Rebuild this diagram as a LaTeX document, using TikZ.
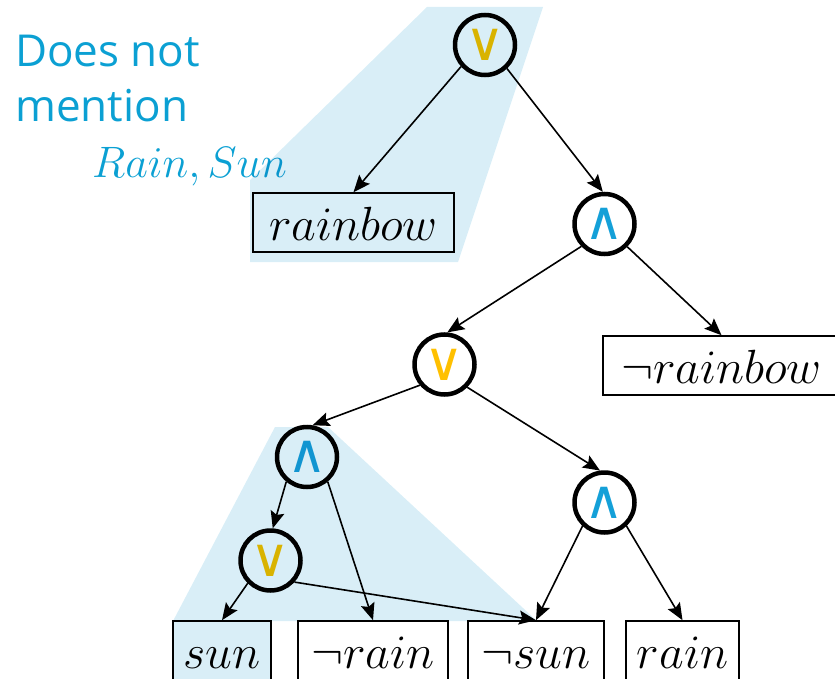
\RequirePackage{fix-cm}
\documentclass[tikz,border=0pt]{standalone}
\usepackage{fontspec}
\newfontfamily\labelfont{Open Sans}
\newfontfamily\opfont{DejaVu Sans}
\usetikzlibrary{arrows.meta}
\definecolor{shadeblue}{HTML}{D9EEF7}
\definecolor{labelblue}{HTML}{0BA0D3}
\definecolor{oryellow}{HTML}{FFC000}
\definecolor{andblue}{HTML}{14A0D8}
\begin{document}
\begin{tikzpicture}[x=1pt,y=-1pt,
  gate/.style={circle,draw=black,line width=4.5pt,fill=white,minimum size=60pt,inner sep=0pt},
  orgate/.style={gate,text=oryellow,font=\opfont\fontsize{54}{54}\selectfont},
  andgate/.style={gate,text=andblue,font=\opfont\fontsize{54}{54}\selectfont},
  lit/.style={draw=black,line width=1.6pt,fill=white,inner sep=0pt,minimum height=59pt,text height=36pt,text depth=0pt,font=\fontsize{48}{50}\selectfont},
  link/.style={-{Stealth[length=17pt,width=14pt,inset=3pt]},line width=1.6pt},
  region/.style={fill=shadeblue}]
\useasboundingbox (0,0) rectangle (835,679);

\node[orgate] (or1) at (485,45) {∨};
\node[andgate] (and1) at (604.5,224) {∧};
\node[orgate] (or2) at (444.5,364.5) {∨};
\node[andgate] (and2) at (307,457) {∧};
\node[orgate] (or3) at (270.5,560.5) {∨};
\node[andgate] (and3) at (604.5,502.5) {∧};

\node[lit,minimum width=201pt] (rainbow) at (353.5,222.5) {$rainbow$};
\node[lit,minimum width=237pt] (nrainbow) at (721.5,365.5) {$\neg rainbow$};
\node[lit,minimum width=98pt] (sun) at (222,650.5) {$sun$};
\node[lit,minimum width=150pt] (nrain) at (373,650.5) {$\neg rain$};
\node[lit,minimum width=136pt] (nsun) at (536,650.5) {$\neg sun$};
\node[lit,minimum width=113pt] (rain) at (682.5,650.5) {$rain$};

\draw[link] (or1.222) -- (rainbow.north);
\draw[link] (or1.-47) -- (and1.93);
\draw[link] (and1.224) -- (or2.85);
\draw[link] (and1.-45) -- (nrainbow.north);
\draw[link] (or2.220) -- (and2.80);
\draw[link] (or2.-45) -- (and3.98);
\draw[link] (and2.230) -- (or3.86);
\draw[link] (and2.-50) -- (nrain.north);
\draw[link] (or3.225) -- (sun.north);
\draw[link] (or3.-42) -- (nsun.north);
\draw[link] (and3.227) -- (nsun.north);
\draw[link] (and3.-47) -- (rain.north);

\node[anchor=north west,inner sep=0pt,align=left,text=labelblue,font=\labelfont\fontsize{44}{55}\selectfont] (title) at (15,35) {Does not\\mention};
\node[anchor=base west,inner sep=0pt,text=labelblue,font=\fontsize{44}{44}\selectfont] (vars) at (92,178) {$Rain, Sun$};

\begin{scope}[blend mode=multiply]
\fill[region] (427,7) -- (543,7) -- (458,262) -- (250,262) -- (250,180) -- cycle;
\fill[region] (275,427) -- (328,427) -- (537,621) -- (271,621) -- (271,681) -- (173,681) -- (173,621) -- cycle;
\end{scope}
\end{tikzpicture}
\end{document}
